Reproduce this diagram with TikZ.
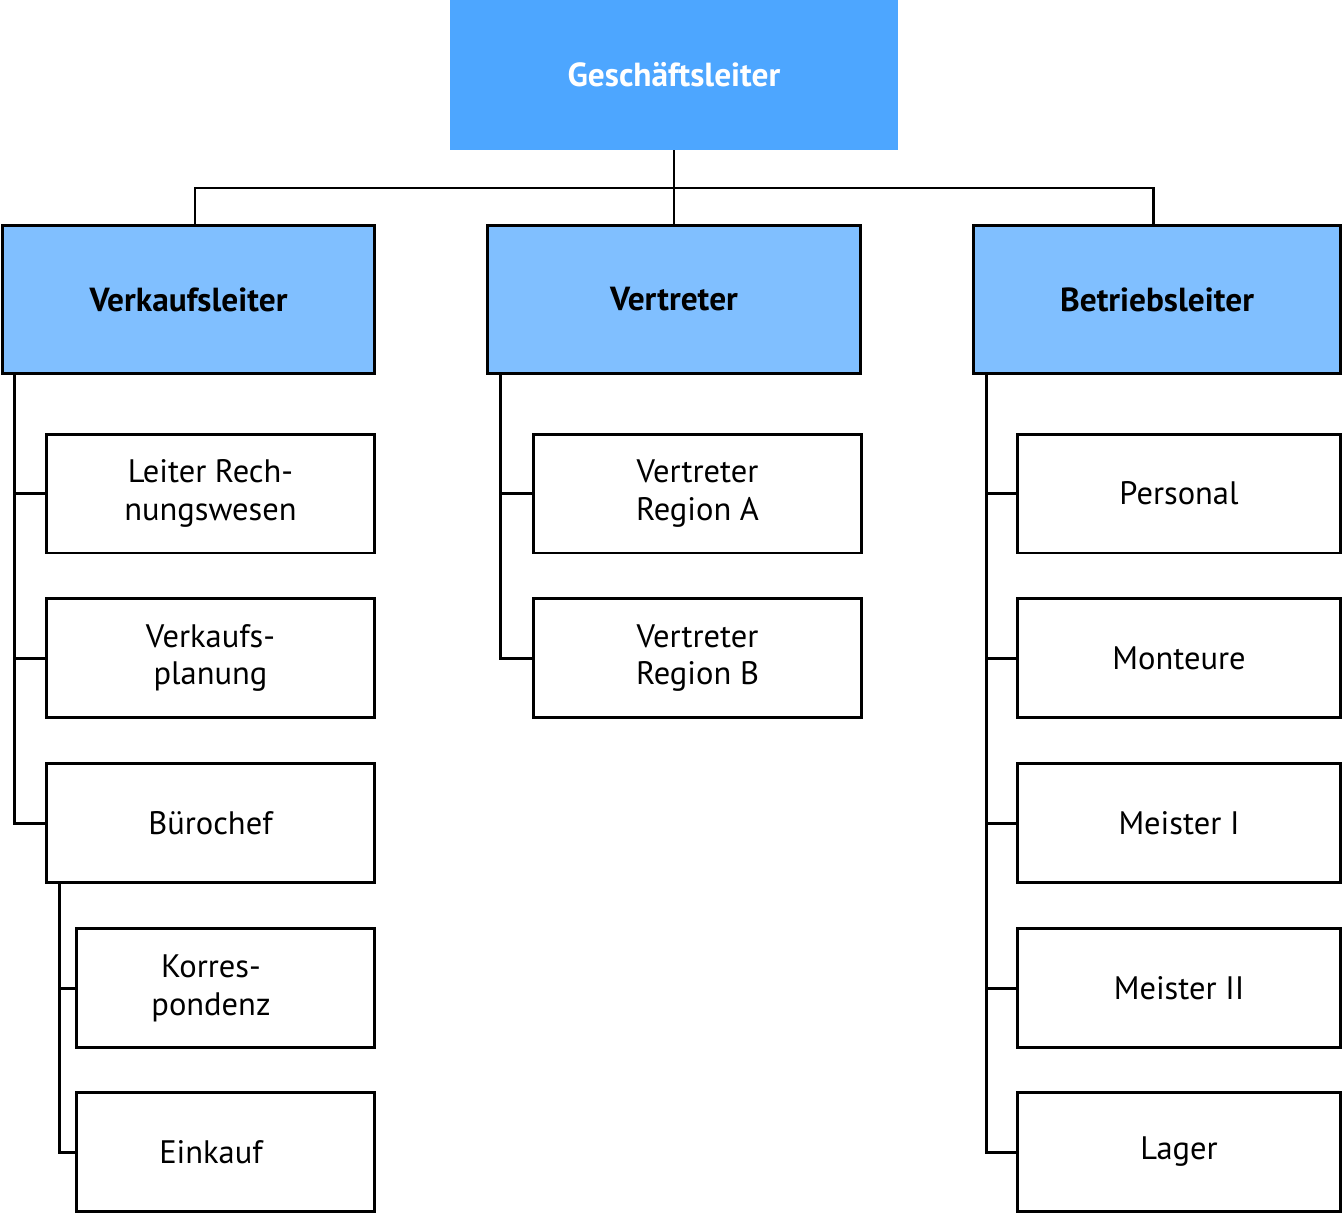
\documentclass[tikz,border=0pt]{standalone}
\usepackage{fontspec}
\setmainfont{PT Sans}
\usepackage{tikz}
\usetikzlibrary{positioning,calc}

\definecolor{chefblau}{HTML}{4DA6FF}
\definecolor{leiterblau}{HTML}{80BFFF}

\begin{document}
\begin{tikzpicture}[
    x=0.02cm, y=-0.02cm,
    box/.style={draw, line width=1.7pt, inner sep=0pt, align=center, font=\fontsize{18.5}{21.5}\selectfont},
    chef/.style={fill=chefblau, text=white, minimum width=8.96cm, minimum height=3cm, inner sep=0pt, font=\fontsize{19}{22}\selectfont\bfseries},
    leiter/.style={box, fill=leiterblau, minimum width=7.46cm, minimum height=2.98cm, font=\fontsize{19}{22}\selectfont\bfseries},
    stelle/.style={box, fill=white, minimum width=6.58cm, minimum height=2.38cm},
    unterstelle/.style={stelle, minimum width=5.98cm},
    conn/.style={line width=1.7pt},
]
\useasboundingbox (0,0) rectangle (1343,1214);

% Row 1: Geschaeftsleitung
\node[chef] (gl) at (674,75) {Geschäftsleiter};

% Row 2: Leiter
\node[leiter] (vl) at (188.5,299.5) {Verkaufsleiter};
\node[leiter] (vt) at (674,299.5) {Vertreter};
\node[leiter, minimum width=7.36cm] (bl) at (1157,299.5) {Betriebsleiter};

% Verkauf
\node[stelle] (lr) at (210.5,493.5) {Leiter Rech-\\nungswesen};
\node[stelle] (vp) at (210.5,658) {Verkaufs-\\planung};
\node[stelle] (bc) at (210.5,823) {Bürochef};
\node[unterstelle] (ko) at (225.5,988) {\hspace*{-0.58cm}Korres-\\\hspace*{-0.58cm}pondenz};
\node[unterstelle] (ek) at (225.5,1152) {\hspace*{-0.58cm}Einkauf};

% Vertreter
\node[stelle] (ra) at (697.5,493.5) {Vertreter\\Region A};
\node[stelle] (rb) at (697.5,658) {Vertreter\\Region B};

% Betrieb
\node[stelle, minimum width=6.48cm] (pe) at (1179,493.5) {Personal};
\node[stelle, minimum width=6.48cm] (mo) at (1179,658) {Monteure};
\node[stelle, minimum width=6.48cm] (m1) at (1179,823) {Meister I};
\node[stelle, minimum width=6.48cm] (m2) at (1179,988) {Meister II};
\node[stelle, minimum width=6.48cm] (la) at (1179,1152) {Lager};

% Verbindungen oben
\coordinate (bar) at (674,188);
\draw[conn] (gl.south) -- (vt.north);
\draw[conn] ([xshift=0.13cm]vl.north) |- (bar) -| ([xshift=-0.08cm]bl.north);

% Verbindungen Verkauf
\draw[conn] ([xshift=0.28cm]vl.south west) |- (lr.west);
\draw[conn] ([xshift=0.28cm]vl.south west) |- (vp.west);
\draw[conn] ([xshift=0.28cm]vl.south west) |- (bc.west);
\draw[conn] ([xshift=0.3cm]bc.south west) |- (ko.west);
\draw[conn] ([xshift=0.3cm]bc.south west) |- (ek.west);

% Verbindungen Vertreter
\draw[conn] ([xshift=0.28cm]vt.south west) |- (ra.west);
\draw[conn] ([xshift=0.28cm]vt.south west) |- (rb.west);

% Verbindungen Betrieb
\draw[conn] ([xshift=0.3cm]bl.south west) |- (pe.west);
\draw[conn] ([xshift=0.3cm]bl.south west) |- (mo.west);
\draw[conn] ([xshift=0.3cm]bl.south west) |- (m1.west);
\draw[conn] ([xshift=0.3cm]bl.south west) |- (m2.west);
\draw[conn] ([xshift=0.3cm]bl.south west) |- (la.west);

\end{tikzpicture}
\end{document}
